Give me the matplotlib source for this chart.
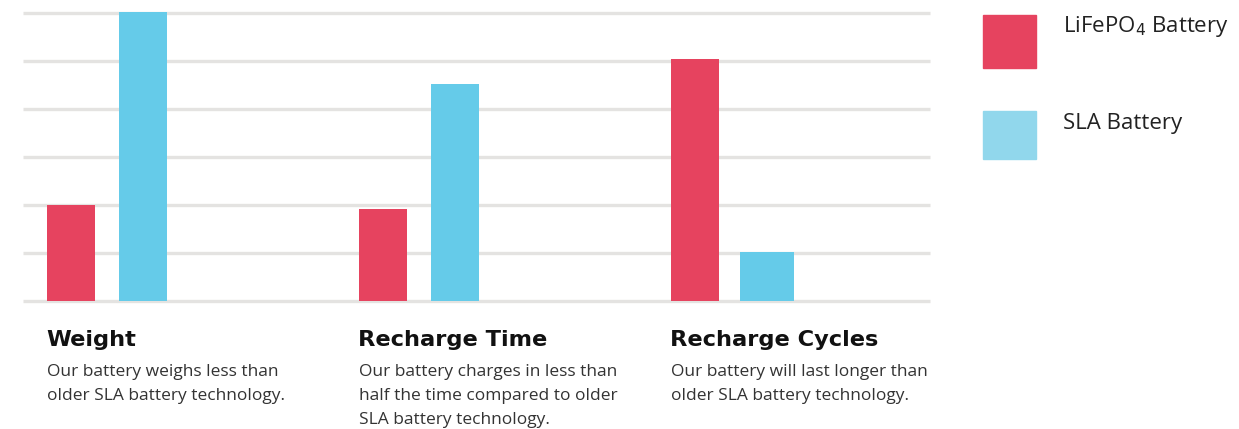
import matplotlib
matplotlib.use('Agg')
import matplotlib.pyplot as plt
from matplotlib.patches import Rectangle
from matplotlib.transforms import blended_transform_factory

# data
categories = ['Weight', 'Recharge Time', 'Recharge Cycles']
lifepo4 = [2.0, 1.92, 5.04]
sla = [6.02, 4.52, 1.02]
descriptions = [
    ['Our battery weighs less than', 'older SLA battery technology.'],
    ['Our battery charges in less than', 'half the time compared to older', 'SLA battery technology.'],
    ['Our battery will last longer than', 'older SLA battery technology.'],
]
series_names = ['LiFePO$_4$ Battery', 'SLA Battery']
gridlines = [0, 1, 2, 3, 4, 5, 6]

red = '#e6435f'
blue = '#65cbe9'
blue_legend = '#91d7ec'
W, H = 1239, 429

fig = plt.figure(figsize=(W / 100, H / 100), dpi=100)
# axes spans x 23..930 px, y 13..301 px
ax = fig.add_axes([23 / W, 1 - 301 / H, 907 / W, 288 / H])

unit = 312.0  # px per group
bw = 48 / unit
for i in range(len(categories)):
    ax.bar(i + 48 / unit, lifepo4[i], width=bw, color=red, zorder=3, clip_on=False)
    w2 = 54 / unit if i == 2 else bw
    ax.bar(i + 120 / unit, sla[i], width=w2, color=blue, zorder=3, clip_on=False)

for g in gridlines:
    ax.axhline(g, color='#e4e3e1', linewidth=2.4, zorder=0, clip_on=False,
               solid_capstyle='butt')

ax.set_xlim(0, 907 / unit)
ax.set_ylim(0, 6)
ax.set_xticks([])
ax.set_yticks([])
for s in ax.spines.values():
    s.set_visible(False)

# titles and captions below each group
tr = blended_transform_factory(ax.transData, fig.transFigure)
for i, cat in enumerate(categories):
    x0 = i + 23 / unit
    ax.text(x0, 1 - 345.5 / H, cat, transform=tr, family='DejaVu Sans', fontweight='bold',
            fontsize=16.2, color='#111111', va='baseline', ha='left')
    for j, line in enumerate(descriptions[i]):
        ax.text(x0 + 1 / unit, 1 - (376.5 + 24 * j) / H, line, transform=tr, family='Open Sans',
                fontsize=12.5, color='#333333', va='baseline', ha='left')

# legend
fig.patches.append(Rectangle((983 / W, 1 - 68 / H), 53 / W, 53 / H,
                             transform=fig.transFigure, color=red))
fig.patches.append(Rectangle((983 / W, 1 - 159 / H), 53 / W, 48 / H,
                             transform=fig.transFigure, color=blue_legend))
fig.text(1063 / W, 1 - 32 / H, series_names[0], family='Open Sans', fontsize=16,
         color='#222222', va='baseline')
fig.text(1063 / W, 1 - 129 / H, series_names[1], family='Open Sans', fontsize=16,
         color='#222222', va='baseline')

fig.savefig('out.png', dpi=100)
